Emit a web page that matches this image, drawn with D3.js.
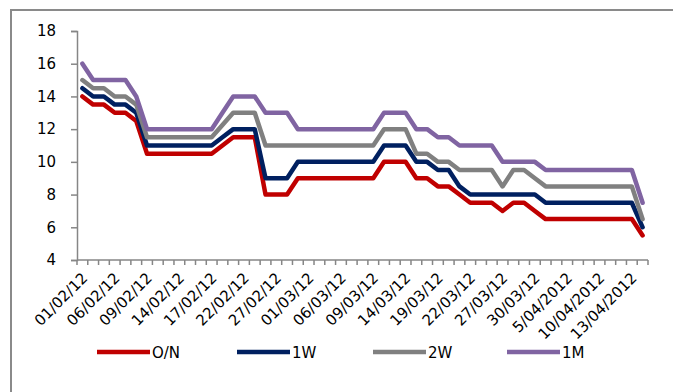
<!DOCTYPE html>
<html><head><meta charset="utf-8">
<script src="https://cdn.jsdelivr.net/npm/d3@7/dist/d3.min.js"></script>
<style>body{margin:0;background:#fff;}svg{display:block;}</style>
</head><body>
<svg id="c" width="673" height="392"></svg>
<script>
const categories = ["01/02/12","02/02/12","03/02/12","06/02/12","07/02/12","08/02/12","09/02/12","10/02/12","13/02/12","14/02/12","15/02/12","16/02/12","17/02/12","20/02/12","21/02/12","22/02/12","23/02/12","24/02/12","27/02/12","28/02/12","29/02/12","01/03/12","02/03/12","05/03/12","06/03/12","07/03/12","08/03/12","09/03/12","12/03/12","13/03/12","14/03/12","15/03/12","16/03/12","19/03/12","20/03/12","21/03/12","22/03/12","23/03/12","26/03/12","27/03/12","28/03/12","29/03/12","30/03/12","2/04/2012","3/04/2012","5/04/2012","6/04/2012","9/04/2012","10/04/2012","11/04/2012","12/04/2012","13/04/2012","16/04/2012"];
const seriesNames = ["O/N","1W","2W","1M"];
const valuesON = [14,13.5,13.5,13,13,12.5,10.5,10.5,10.5,10.5,10.5,10.5,10.5,11,11.5,11.5,11.5,8,8,8,9,9,9,9,9,9,9,9,10,10,10,9,9,8.5,8.5,8,7.5,7.5,7.5,7,7.5,7.5,7,6.5,6.5,6.5,6.5,6.5,6.5,6.5,6.5,6.5,5.5];
const values1W = [14.5,14,14,13.5,13.5,13,11,11,11,11,11,11,11,11.5,12,12,12,9,9,9,10,10,10,10,10,10,10,10,11,11,11,10,10,9.5,9.5,8.5,8,8,8,8,8,8,8,7.5,7.5,7.5,7.5,7.5,7.5,7.5,7.5,7.5,6];
const values2W = [15,14.5,14.5,14,14,13.5,11.5,11.5,11.5,11.5,11.5,11.5,11.5,12.25,13,13,13,11,11,11,11,11,11,11,11,11,11,11,12,12,12,10.5,10.5,10,10,9.5,9.5,9.5,9.5,8.5,9.5,9.5,9,8.5,8.5,8.5,8.5,8.5,8.5,8.5,8.5,8.5,6.5];
const values1M = [16,15,15,15,15,14,12,12,12,12,12,12,12,13,14,14,14,13,13,13,12,12,12,12,12,12,12,12,13,13,13,12,12,11.5,11.5,11,11,11,11,10,10,10,10,9.5,9.5,9.5,9.5,9.5,9.5,9.5,9.5,9.5,7.5];
const yTicks = [4,6,8,10,12,14,16,18];
const colors = ["#C00000","#002060","#808080","#8064A2"];

const series = [valuesON, values1W, values2W, values1M];
const svg = d3.select("#c");
const FONT = "DejaVu Sans";

// outer chart border
svg.append("rect").attr("x",11).attr("y",10).attr("width",720).attr("height",420)
  .attr("fill","none").attr("stroke","#8a8a8a").attr("stroke-width",2);

const x = d3.scaleBand().domain(categories).range([77,648]).padding(0);
const y = d3.scaleLinear().domain([4,18]).range([260,31]);
const axisColor = "#868686";

// y axis
const ya = svg.append("g").attr("transform","translate(77,0)")
  .call(d3.axisLeft(y).tickValues(yTicks).tickSize(6).tickPadding(15).tickFormat(d3.format("d")));
ya.select(".domain").attr("stroke",axisColor).attr("stroke-width",1.5);
ya.selectAll(".tick line").attr("stroke",axisColor).attr("stroke-width",1.5);
ya.selectAll("text").attr("font-family",FONT).attr("font-size",15).attr("fill","#000");

// x axis line and ticks between categories
const xa = svg.append("g");
xa.append("line").attr("x1",77).attr("x2",648).attr("y1",y(4)).attr("y2",y(4))
  .attr("stroke",axisColor).attr("stroke-width",1.5);
const bounds = categories.map(c=>x(c)).concat([x(categories[categories.length-1])+x.bandwidth()]);
xa.selectAll("line.t").data(bounds).join("line").attr("class","t")
  .attr("x1",d=>d).attr("x2",d=>d).attr("y1",y(4)).attr("y2",y(4)+5)
  .attr("stroke",axisColor).attr("stroke-width",1.5);

// x labels every 3rd category
xa.selectAll("text").data(categories.filter((c,i)=>i%3===0)).join("text")
  .attr("transform",d=>`translate(${x(d)+x.bandwidth()/2+6},${y(4)+19}) rotate(-45)`)
  .attr("text-anchor","end").attr("font-family",FONT).attr("font-size",15).attr("fill","#000")
  .text(d=>d);

// lines
const line = d3.line().x((d,i)=>x(categories[i])+x.bandwidth()/2).y(d=>y(d));
series.forEach((s,k)=>{
  svg.append("path").datum(s).attr("d",line).attr("fill","none")
    .attr("stroke",colors[k]).attr("stroke-width",4.5).attr("stroke-linejoin","round").attr("stroke-linecap","round");
});

// legend
const legX = [97,237,373,507];
seriesNames.forEach((n,k)=>{
  svg.append("line").attr("x1",legX[k]).attr("x2",legX[k]+53).attr("y1",352).attr("y2",352)
    .attr("stroke",colors[k]).attr("stroke-width",4.5);
  svg.append("text").attr("x",legX[k]+55).attr("y",358).attr("font-family",FONT).attr("font-size",15)
    .attr("fill","#000").text(n);
});
</script>
</body></html>
